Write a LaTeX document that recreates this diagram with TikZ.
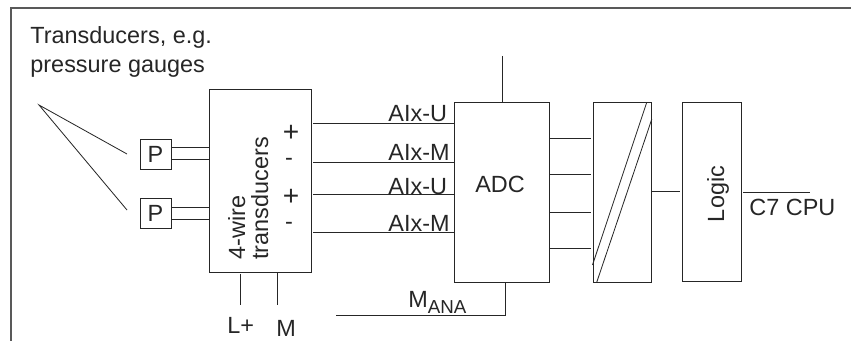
\documentclass[tikz,border=0pt]{standalone}
\usepackage{fontspec}
\setmainfont{Liberation Sans}
\tikzset{
	block/.style={draw, inner sep=0pt, anchor=north west},
	txt/.style={inner sep=0pt, anchor=base west, font=\fontsize{20}{24}\selectfont},
	rtxt/.style={txt, rotate=90, anchor=base west, align=left},
	sign/.style={txt, anchor=center, font=\fontsize{24}{24}\selectfont},
}
\begin{document}
\begin{tikzpicture}[x=0.03cm, y=-0.03cm, line join=miter, line cap=butt, line width=0.7pt, color={black!85}]
	\useasboundingbox (0,0) rectangle (851,341);
	\coordinate (frameb) at (11,341);
	\coordinate (framec) at (11,8);
	\coordinate (framee) at (851,8);
	\draw[line width=0.9pt, black!65] (frameb) -- (framec) -- (framee);
	\node[txt] (title1) at (30,44) {Transducers, e.g.};
	\node[txt] (title2) at (30,73) {pressure gauges};
	% transducers
	\node[block, minimum width=31*0.03cm, minimum height=30*0.03cm] (p1) at (140,139) {};
	\node[block, minimum width=31*0.03cm, minimum height=30*0.03cm] (p2) at (140,198) {};
	\node[txt, anchor=base] (p1t) at (155.5,162) {P};
	\node[txt, anchor=base] (p2t) at (155.5,221) {P};
	\coordinate (apex) at (39,105);
	\coordinate (end1) at (127,154);
	\coordinate (end2) at (127,210);
	\draw (end1) -- (apex) -- (end2);
	\node[block, minimum width=102.5*0.03cm, minimum height=182.5*0.03cm] (wire) at (208.5,89.5) {};
	\node[rtxt] (wiret) at (245,260) {4-wire};
	\node[rtxt] (wiret2) at (268,260) {transducers};
	\draw (p1.east |- 0,147) -- (wire.west |- 0,147);
	\draw (p1.east |- 0,159) -- (wire.west |- 0,159);
	\draw (p2.east |- 0,207.5) -- (wire.west |- 0,207.5);
	\draw (p2.east |- 0,219) -- (wire.west |- 0,219);
	\path (291,133) node[sign] (s1) {+}
	(289,162) node[txt, anchor=center] (s2) {-}
	(291,197) node[sign] (s3) {+}
	(289,226) node[txt, anchor=center] (s4) {-};
	% supply
	\coordinate (lp) at (240,305);
	\coordinate (m) at (277.5,305);
	\draw (wire.south -| lp) ++(0,1) -- (lp);
	\draw (wire.south -| m) -- (m);
	\node[txt] (lpt) at (227,333) {L+};
	\node[txt] (mt) at (276,336) {M};
	% adc
	\node[block, minimum width=95*0.03cm, minimum height=179*0.03cm] (adc) at (454,102.5) {};
	\node[txt, anchor=base] (adct) at (500,192) {ADC};
	\coordinate (ref) at (502.7,56);
	\draw (ref) -- (adc.north -| ref);
	\coordinate (in1) at (313,123.5);
	\coordinate (in2) at (313,162);
	\coordinate (in3) at (313,194);
	\coordinate (in4) at (313,232);
	\draw (in1) -- (adc.west |- in1);
	\draw (in2) -- (adc.west |- in2);
	\draw (in3) -- (adc.west |- in3);
	\draw (in4) -- (adc.west |- in4);
	\path (388,121) node[txt] (l1) {AIx-U}
	(388,160) node[txt] (l2) {AIx-M}
	(388,194) node[txt] (l3) {AIx-U}
	(388,231) node[txt] (l4) {AIx-M};
	\coordinate (mana) at (336,315);
	\draw (mana) -- (505.5,315) -- (adc.south -| 505.5,0);
	\node[txt] (manat) at (408,307) {M\raisebox{-5.5pt}{\fontsize{16}{16}\selectfont ANA}};
	% isolation
	\node[block, minimum width=58.5*0.03cm, minimum height=179*0.03cm] (iso) at (592.5,102.5) {};
	\draw (iso.west |- 0,265) -- (646.7,0 |- iso.north);
	\draw (596.7,0 |- iso.south) -- (iso.east |- 0,119);
	\foreach \y in {138,174,212.5,248.5}
		\draw (adc.east |- 0,\y) -- (591,\y);
	% logic
	\node[block, minimum width=59*0.03cm, minimum height=179*0.03cm] (logic) at (682,102) {};
	\node[rtxt, anchor=base] (logict) at (724,194) {Logic};
	\coordinate (isoend) at (680,191.5);
	\draw (iso.east |- isoend) -- (isoend);
	\coordinate (cpus) at (743,192);
	\coordinate (cpue) at (810,192);
	\draw (cpus) -- (cpue);
	\node[txt] (cput) at (749,215) {C7 CPU};
\end{tikzpicture}
\end{document}
